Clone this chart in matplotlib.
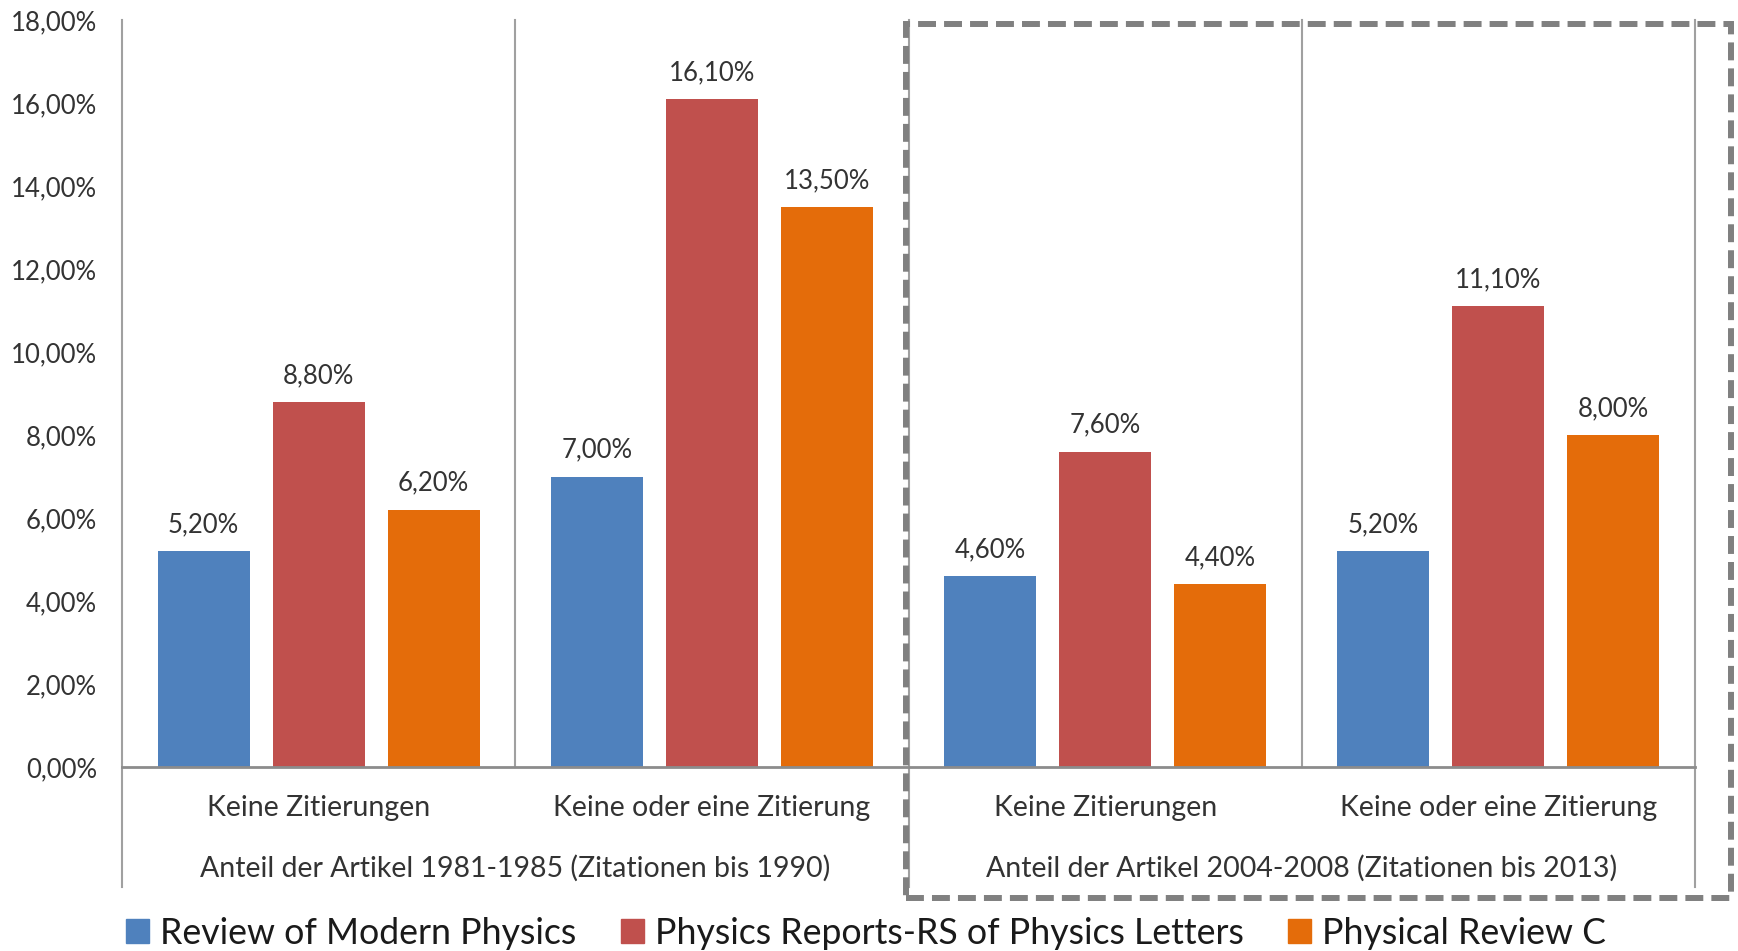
import matplotlib.pyplot as plt
import numpy as np
from matplotlib.patches import Rectangle, Patch

# Daten
categories = ["Keine Zitierungen", "Keine oder eine Zitierung",
              "Keine Zitierungen", "Keine oder eine Zitierung"]
groups = ["Anteil der Artikel 1981-1985 (Zitationen bis 1990)",
          "Anteil der Artikel 2004-2008 (Zitationen bis 2013)"]
series = ["Review of Modern Physics", "Physics Reports-RS of Physics Letters",
          "Physical Review C"]
rmp = [5.2, 7.0, 4.6, 5.2]
prep = [8.8, 16.1, 7.6, 11.1]
prc = [6.2, 13.5, 4.4, 8.0]
yticks = [0, 2, 4, 6, 8, 10, 12, 14, 16, 18]

colors = ["#4F81BD", "#C0504D", "#E46C0A"]
txt = "#333333"
grey = "#a0a0a0"

plt.rcParams['font.family'] = ['Lato', 'DejaVu Sans']

def pct(v):
    return f"{v:.2f}%".replace(".", ",")

W, H = 1738, 951
fig = plt.figure(figsize=(W/100, H/100), dpi=100)
ax = fig.add_axes([122/W, (H-767)/H, (1695-122)/W, (767-20)/H])

x = np.arange(len(categories))
w, off = 0.234, 0.2926
for i, vals in enumerate([rmp, prep, prc]):
    bars = ax.bar(x + (i-1)*off, vals, width=w, color=colors[i], zorder=2)
    ax.bar_label(bars, labels=[pct(v) for v in vals], padding=10,
                 fontsize=18.5, color=txt)

ax.set_xlim(-0.5, 3.5)
ax.set_ylim(0, 18)
ax.set_yticks(yticks)
ax.set_yticklabels([pct(v) for v in yticks], fontsize=18.5, color=txt)
ax.tick_params(axis='y', length=0, pad=18)
ax.set_xticks([])
for s in ['top', 'right', 'left']:
    ax.spines[s].set_visible(False)
ax.spines['bottom'].set_color("#8c8c8c")
ax.spines['bottom'].set_linewidth(2)

# senkrechte Trennlinien (mehrstufige Kategorieachse)
xt = ax.get_xaxis_transform()
low = (767-887)/747
for b in [-0.5, 0.5, 1.5, 2.5, 3.5]:
    y0 = low if b in (-0.5, 1.5, 3.5) else 0
    ax.plot([b, b], [y0, 1], color=grey, lw=1.5, transform=xt, clip_on=False)

for i, c in enumerate(categories):
    ax.text(i, (767-808)/747, c, transform=xt, ha='center', va='center',
            fontsize=20.5, color=txt)
for i, g in enumerate(groups):
    ax.text(0.5 + 2*i, (767-868)/747, g, transform=xt, ha='center',
            va='center', fontsize=20.5, color=txt)

# gestrichelter Rahmen
rect = Rectangle((906/W, (H-898)/H), (1731-906)/W, (898-24)/H,
                 transform=fig.transFigure, fill=False, edgecolor="#808080",
                 lw=4.3, linestyle=(0, (3.0, 1.35)))
fig.add_artist(rect)

handles = [Patch(color=c) for c in colors]
fig.legend(handles, series, loc='center left',
           bbox_to_anchor=(126/W, (H-933)/H), ncol=3, frameon=False,
           fontsize=25.7, handlelength=0.65, handleheight=0.65,
           handletextpad=0.3, columnspacing=1.25, borderpad=0,
           borderaxespad=0, labelcolor="#1a1a1a")

fig.savefig("out.png", dpi=100)
